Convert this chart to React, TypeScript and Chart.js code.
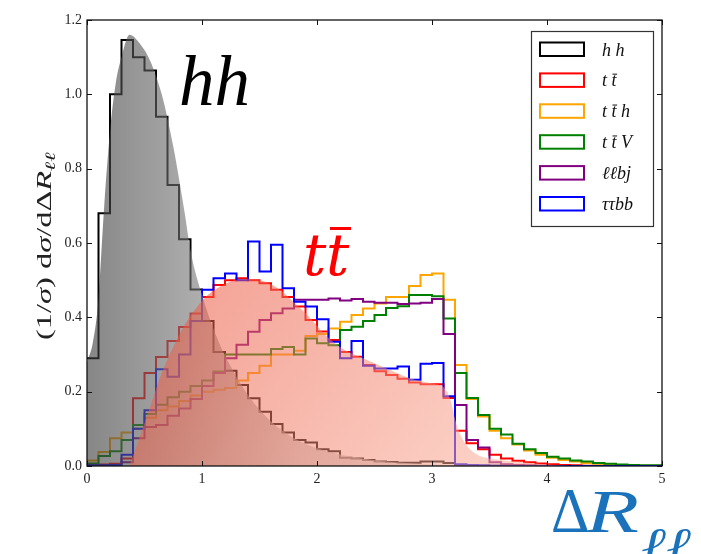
import React, { useEffect, useRef } from 'react';
import { Chart, registerables } from 'chart.js';
Chart.register(...registerables);

// ---- data (bin width 0.1, bins from 0.0 to 5.0) ----
const binLefts = Array.from({ length: 50 }, (_, i) => Math.round(i * 10) / 100);
const xTicks = [0, 1, 2, 3, 4, 5];
const yTicks = [0, 0.2, 0.4, 0.6, 0.8, 1.0, 1.2];

const hhHist = [0.29, 0.68, 1.0, 1.146, 1.1, 1.064, 0.94, 0.756, 0.61, 0.475,
  0.39, 0.307, 0.256, 0.218, 0.182, 0.146, 0.113, 0.09, 0.07, 0.063,
  0.045, 0.04, 0.022, 0.02, 0.016, 0.012, 0.011, 0.009, 0.009, 0.012,
  0.012, 0.008, 0.003, 0.002, 0.001, 0.001, 0, 0, 0, 0,
  0, 0, 0, 0, 0, 0, 0, 0, 0, 0];
const ttHist = [0.002, 0.004, 0.006, 0.02, 0.182, 0.25, 0.293, 0.336, 0.374, 0.41,
  0.455, 0.487, 0.5, 0.505, 0.5, 0.492, 0.474, 0.455, 0.429, 0.393,
  0.362, 0.339, 0.307, 0.294, 0.272, 0.255, 0.245, 0.235, 0.225, 0.22,
  0.22, 0.183, 0.095, 0.061, 0.045, 0.03, 0.02, 0.014, 0.01, 0.007,
  0.005, 0.003, 0.002, 0.001, 0.001, 0, 0, 0, 0, 0];
const tthHist = [0.015, 0.038, 0.075, 0.09, 0.1, 0.13, 0.15, 0.16, 0.175, 0.19,
  0.2, 0.205, 0.21, 0.23, 0.25, 0.27, 0.3, 0.3, 0.31, 0.35,
  0.355, 0.37, 0.388, 0.406, 0.424, 0.437, 0.455, 0.455, 0.484, 0.514,
  0.518, 0.447, 0.272, 0.18, 0.133, 0.095, 0.075, 0.058, 0.042, 0.03,
  0.022, 0.016, 0.012, 0.008, 0.006, 0.004, 0.003, 0.002, 0.001, 0.001];
const ttvHist = [0.007, 0.027, 0.04, 0.07, 0.11, 0.14, 0.165, 0.185, 0.2, 0.215,
  0.23, 0.254, 0.3, 0.3, 0.3, 0.3, 0.315, 0.32, 0.3, 0.343,
  0.33, 0.325, 0.366, 0.375, 0.39, 0.406, 0.425, 0.43, 0.46, 0.46,
  0.457, 0.397, 0.25, 0.183, 0.137, 0.1, 0.085, 0.06, 0.045, 0.035,
  0.025, 0.02, 0.015, 0.012, 0.008, 0.006, 0.004, 0.003, 0.002, 0.002];
const llbjHist = [0, 0, 0.003, 0.01, 0.075, 0.105, 0.11, 0.135, 0.155, 0.18,
  0.215, 0.25, 0.29, 0.326, 0.361, 0.393, 0.411, 0.424, 0.447, 0.447,
  0.447, 0.451, 0.445, 0.449, 0.442, 0.439, 0.439, 0.436, 0.437, 0.439,
  0.449, 0.355, 0.164, 0.07, 0.05, 0.01, 0.005, 0.003, 0.002, 0.001,
  0, 0, 0, 0, 0, 0, 0, 0, 0, 0];
const tautaubbHist = [0.002, 0.002, 0.003, 0.03, 0.1, 0.15, 0.26, 0.24, 0.3, 0.39,
  0.474, 0.505, 0.518, 0.5, 0.604, 0.523, 0.595, 0.478, 0.442, 0.429,
  0.395, 0.334, 0.29, 0.336, 0.27, 0.262, 0.262, 0.268, 0.232, 0.275,
  0.277, 0.188, 0.005, 0.003, 0.002, 0.001, 0, 0, 0, 0,
  0, 0, 0, 0, 0, 0, 0, 0, 0, 0];

// smooth shaded shapes
const hhFitX = [0, 0.05, 0.1, 0.15, 0.2, 0.25, 0.3, 0.37, 0.45, 0.55, 0.65, 0.75, 0.85, 0.9, 1.0, 1.15, 1.3, 1.45, 1.6, 1.8, 2.0, 2.3, 2.6, 3.0, 3.5];
const hhFitY = [0.28, 0.33, 0.45, 0.7, 0.9, 1.03, 1.1, 1.16, 1.14, 1.09, 1.0, 0.86, 0.68, 0.58, 0.46, 0.33, 0.24, 0.17, 0.12, 0.075, 0.048, 0.025, 0.012, 0.004, 0];
const ttFitX = [0.37, 0.45, 0.55, 0.65, 0.75, 0.85, 0.95, 1.05, 1.2, 1.35, 1.5, 1.65, 1.8, 1.95, 2.05, 2.2, 2.4, 2.6, 2.8, 3.0, 3.1, 3.16, 3.21, 3.27, 3.37, 3.6, 3.8, 4.0, 4.2];
const ttFitY = [0, 0.07, 0.16, 0.25, 0.32, 0.38, 0.425, 0.46, 0.49, 0.503, 0.5, 0.48, 0.44, 0.395, 0.36, 0.32, 0.29, 0.263, 0.237, 0.222, 0.212, 0.178, 0.115, 0.07, 0.035, 0.016, 0.01, 0.004, 0];

const seriesNames = ['hh', 'tt', 'tth', 'ttV', 'llbj', 'tautaubb'];
const seriesColors = ['#000000', '#ff0000', '#ffa500', '#008000', '#800080', '#0000ff'];
const seriesValues = [hhHist, ttHist, tthHist, ttvHist, llbjHist, tautaubbHist];

const SERIF = '"Liberation Serif", "DejaVu Serif", serif';
const DJV = '"DejaVu Serif", serif';

function histPoints(vals: number[]) {
  const pts = vals.map((v, i) => ({ x: binLefts[i], y: v }));
  pts.push({ x: 5, y: vals[vals.length - 1] });
  return pts;
}

type Seg = { t: string; f: string; dy?: number; bar?: boolean };

function segWidth(ctx: CanvasRenderingContext2D, segs: Seg[]) {
  let w = 0;
  for (const s of segs) { ctx.font = s.f; w += ctx.measureText(s.t).width; }
  return w;
}
function drawSegs(ctx: CanvasRenderingContext2D, segs: Seg[], x: number, y: number, barDy = 0) {
  let cx = x;
  for (const s of segs) {
    ctx.font = s.f;
    const w = ctx.measureText(s.t).width;
    ctx.fillText(s.t, cx, y + (s.dy || 0));
    if (s.bar) {
      const size = parseFloat(s.f.replace(/^[^0-9]*/, ''));
      ctx.save();
      ctx.lineWidth = Math.max(1, size * 0.05);
      ctx.strokeStyle = ctx.fillStyle as string;
      ctx.beginPath();
      const by = y - size * 0.68 + barDy;
      ctx.moveTo(cx + w * 0.2, by);
      ctx.lineTo(cx + w * 0.95 + size * 0.05, by);
      ctx.stroke();
      ctx.restore();
    }
    cx += w;
  }
}
function drawScaled(ctx: CanvasRenderingContext2D, t: string, f: string, x: number, y: number, sx: number) {
  ctx.save();
  ctx.translate(x, y);
  ctx.scale(sx, 1);
  ctx.font = f;
  ctx.fillText(t, 0, 0);
  ctx.restore();
}

const decorPlugin = {
  id: 'decor',
  afterDraw(chart: any) {
    const { ctx, chartArea: a, scales } = chart;
    const xs = scales.x, ys = scales.y;
    ctx.save();
    // frame
    ctx.strokeStyle = '#111';
    ctx.lineWidth = 1.3;
    ctx.strokeRect(a.left, a.top, a.right - a.left, a.bottom - a.top);
    // inward ticks on all sides
    ctx.lineWidth = 1;
    ctx.beginPath();
    for (const t of xTicks) {
      const px = Math.round(xs.getPixelForValue(t)) + 0.5;
      ctx.moveTo(px, a.bottom); ctx.lineTo(px, a.bottom - 5);
      ctx.moveTo(px, a.top); ctx.lineTo(px, a.top + 5);
    }
    for (const t of yTicks) {
      const py = Math.round(ys.getPixelForValue(t)) + 0.5;
      ctx.moveTo(a.left, py); ctx.lineTo(a.left + 5, py);
      ctx.moveTo(a.right, py); ctx.lineTo(a.right - 5, py);
    }
    ctx.stroke();

    // big labels
    ctx.fillStyle = '#000';
    ctx.textBaseline = 'alphabetic';
    ctx.font = `italic 71px ${SERIF}`;
    ctx.fillText('hh', 179, 105);

    ctx.fillStyle = '#ff0000';
    ctx.font = `italic 58px ${DJV}`;
    ctx.fillText('t', 303, 275);
    ctx.fillText('t', 326, 275);
    ctx.fillRect(330, 227, 21, 3);

    // Delta R label
    ctx.fillStyle = '#1a72bb';
    drawScaled(ctx, 'Δ', `63px ${SERIF}`, 551, 532, 0.95);
    drawScaled(ctx, 'R', `italic 62px ${SERIF}`, 586, 532, 1.4);
    drawScaled(ctx, 'ℓℓ', `italic 48px ${DJV}`, 641, 561, 1.25);

    // y label
    ctx.save();
    ctx.translate(51, 246);
    ctx.rotate(-Math.PI / 2);
    ctx.fillStyle = '#222';
    const ySegs: Seg[] = [
      { t: '(1/', f: `20px ${SERIF}` },
      { t: 'σ', f: `italic 20px ${SERIF}` },
      { t: ') d', f: `20px ${SERIF}` },
      { t: 'σ', f: `italic 20px ${SERIF}` },
      { t: '/dΔ', f: `20px ${SERIF}` },
      { t: 'R', f: `italic 20px ${SERIF}` },
      { t: 'ℓℓ', f: `italic 14px ${SERIF}`, dy: 4 },
    ];
    const yw = segWidth(ctx, ySegs);
    const sxl = 188 / yw;
    ctx.scale(sxl, 1);
    drawSegs(ctx, ySegs, -yw / 2, 0);
    ctx.restore();

    // legend
    const lx = 531, ly = 31, lw = 122, lh = 195;
    ctx.fillStyle = '#fff';
    ctx.fillRect(lx, ly, lw, lh);
    ctx.strokeStyle = '#333';
    ctx.lineWidth = 1.2;
    ctx.strokeRect(lx + 0.5, ly + 0.5, lw, lh);
    const f = `italic 18px ${SERIF}`;
    const labels: Seg[][] = [
      [{ t: 'h h', f }],
      [{ t: 't ', f }, { t: 't', f, bar: true }],
      [{ t: 't ', f }, { t: 't', f, bar: true }, { t: ' h', f }],
      [{ t: 't ', f }, { t: 't', f, bar: true }, { t: ' V', f }],
      [{ t: 'ℓℓbj', f }],
      [{ t: 'ττbb', f }],
    ];
    for (let i = 0; i < 6; i++) {
      const top = 42.5 + i * 30.9;
      ctx.strokeStyle = seriesColors[i];
      ctx.lineWidth = 2;
      ctx.strokeRect(540, top, 44, 13.5);
      ctx.fillStyle = '#111';
      drawSegs(ctx, labels[i], 602, top + 13, 0);
    }
    ctx.restore();
  },
};

export default function App() {
  const ref = useRef<HTMLCanvasElement>(null);
  useEffect(() => {
    document.body.style.margin = '0';
    const histSets = seriesValues.map((vals, i) => ({
      type: 'line' as const,
      label: seriesNames[i],
      data: histPoints(vals),
      borderColor: seriesColors[i],
      borderWidth: 2,
      pointRadius: 0,
      stepped: true,
      fill: false,
      order: 10 - i,
    }));
    const grayFill = {
      type: 'line' as const,
      label: 'hh shape',
      data: hhFitX.map((x, i) => ({ x, y: hhFitY[i] })),
      borderWidth: 0,
      borderColor: 'rgba(0,0,0,0)',
      pointRadius: 0,
      tension: 0.4,
      cubicInterpolationMode: 'monotone' as const,
      fill: 'origin',
      order: 1,
      backgroundColor: (c: any) => {
        const a = c.chart.chartArea;
        if (!a) return 'rgba(120,120,120,0.6)';
        const g = c.chart.ctx.createLinearGradient(a.left, 0, a.left + 115 * 3.5, 0);
        g.addColorStop(0, 'rgba(60,60,60,0.62)');
        g.addColorStop(0.286, 'rgba(125,125,125,0.62)');
        g.addColorStop(0.53, 'rgba(178,178,178,0.62)');
        g.addColorStop(1, 'rgba(215,215,215,0.62)');
        return g;
      },
    };
    const pinkFill = {
      type: 'line' as const,
      label: 'tt shape',
      data: ttFitX.map((x, i) => ({ x, y: ttFitY[i] })),
      borderWidth: 0,
      borderColor: 'rgba(0,0,0,0)',
      pointRadius: 0,
      tension: 0.4,
      cubicInterpolationMode: 'monotone' as const,
      fill: 'origin',
      order: 0,
      backgroundColor: (c: any) => {
        const a = c.chart.chartArea;
        if (!a) return 'rgba(240,120,100,0.55)';
        const xs = c.chart.scales.x, ys = c.chart.scales.y;
        const g = c.chart.ctx.createLinearGradient(
          xs.getPixelForValue(1.0), ys.getPixelForValue(0.55),
          xs.getPixelForValue(3.4), ys.getPixelForValue(0.0));
        g.addColorStop(0, 'rgba(234,85,62,0.55)');
        g.addColorStop(1, 'rgba(250,170,150,0.55)');
        return g;
      },
    };
    const chart = new Chart(ref.current!, {
      type: 'line',
      data: { datasets: [...histSets, grayFill, pinkFill] as any },
      options: {
        responsive: false,
        animation: false,
        events: [],
        layout: { padding: { left: 0, top: 20, right: 39, bottom: 0 } },
        plugins: { legend: { display: false }, tooltip: { enabled: false } },
        scales: {
          x: {
            type: 'linear', min: 0, max: 5,
            afterFit: (s: any) => { s.height = 88; },
            afterBuildTicks: (s: any) => { s.ticks = xTicks.map((v) => ({ value: v })); },
            ticks: { color: '#222', font: { family: SERIF, size: 14 }, padding: 5, callback: (v: any) => String(v), maxRotation: 0 },
            grid: { display: false, drawTicks: false },
            border: { display: false },
          },
          y: {
            type: 'linear', min: 0, max: 1.2,
            afterFit: (s: any) => { s.width = 87; },
            afterBuildTicks: (s: any) => { s.ticks = yTicks.map((v) => ({ value: v })); },
            ticks: { color: '#222', font: { family: SERIF, size: 14 }, padding: 5, callback: (v: any) => Number(v).toFixed(1) },
            grid: { display: false, drawTicks: false },
            border: { display: false },
          },
        },
      },
      plugins: [decorPlugin],
    });
    return () => chart.destroy();
  }, []);
  return (
    <div style={{ width: 701, height: 554, background: '#fff' }}>
      <canvas ref={ref} width={701} height={554} style={{ display: 'block', width: 701, height: 554 }} />
    </div>
  );
}
